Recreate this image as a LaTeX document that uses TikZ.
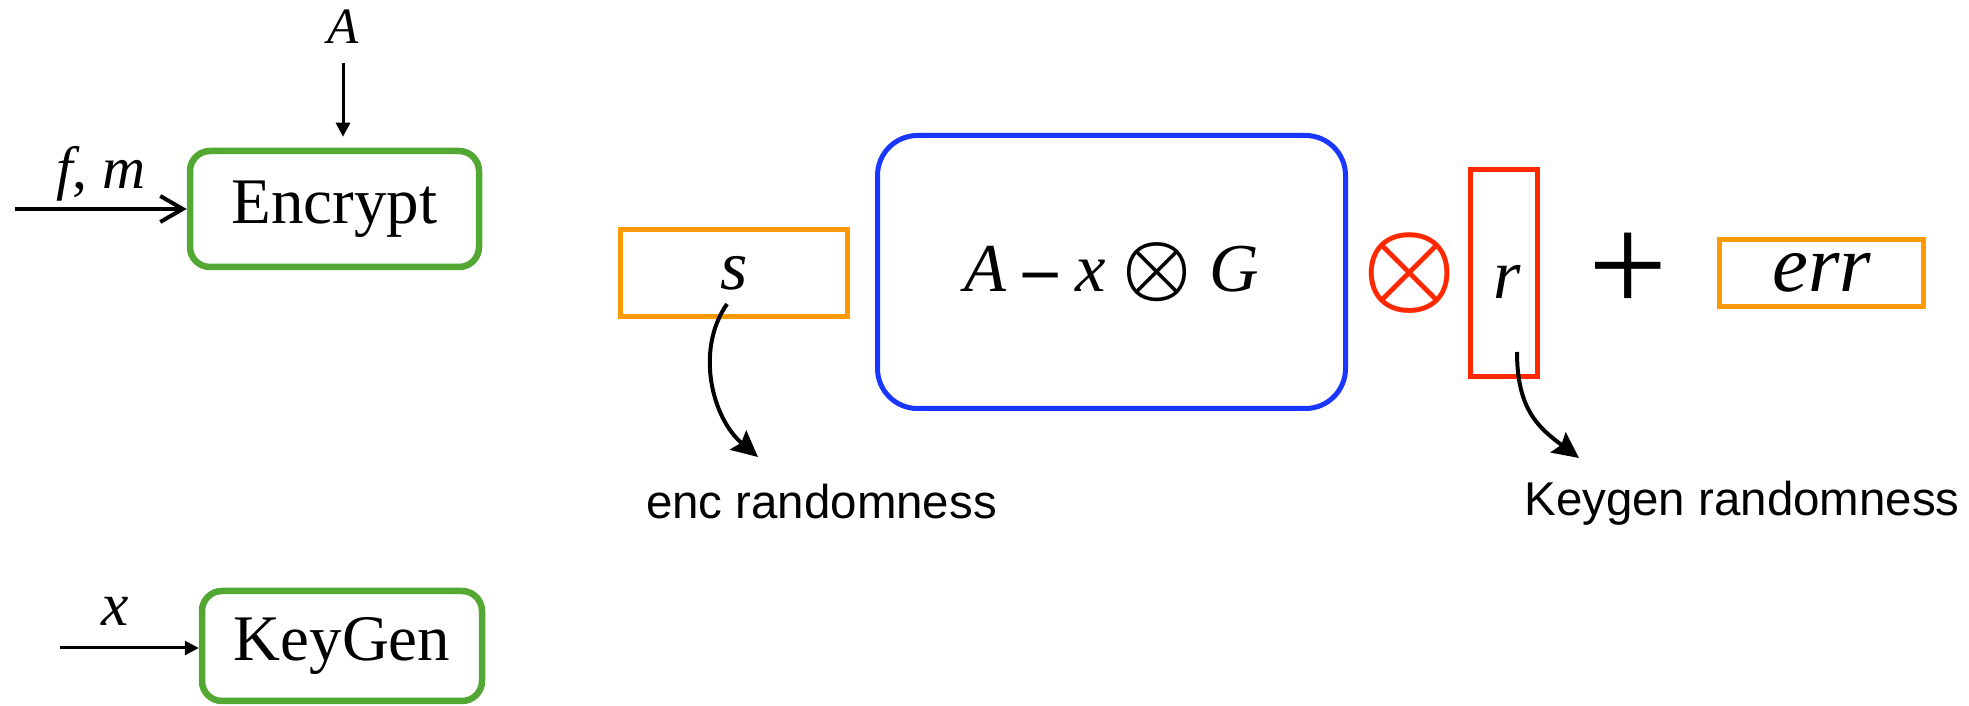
\documentclass[tikz,border=0pt]{standalone}
\usepackage{fix-cm}
\usepackage{fontspec}
\setmainfont{Liberation Serif}
\newfontfamily\labelfont{Liberation Sans}
\usetikzlibrary{arrows.meta}
\definecolor{boxgreen}{RGB}{82,168,50}
\definecolor{boxorange}{RGB}{255,153,0}
\definecolor{boxblue}{RGB}{25,55,255}
\definecolor{boxred}{RGB}{255,40,0}
\newcommand{\fsz}[1]{\fontsize{#1}{#1}\selectfont}

\begin{document}
\begin{tikzpicture}[
 algo/.style={rectangle,draw=boxgreen,line width=0.13cm,rounded corners=0.4cm,
             minimum height=2.32cm,font=\fsz{37}},
 vecbox/.style={rectangle,line width=0.1cm,inner sep=0pt,font=\fsz{40}\itshape},
 inarrow/.style={line width=0.08cm,-{Straight Barb[length=0.45cm,width=0.52cm]}},
 thinarrow/.style={line width=0.06cm,-{Triangle[length=0.28cm,width=0.28cm]}},
 curvearrow/.style={line width=0.08cm,-{Stealth[length=0.52cm,width=0.5cm,inset=0.08cm]}},
 randlabel/.style={font=\labelfont\fsz{27}}]
\useasboundingbox (0,0) rectangle (39.38,14.12);

% Encrypt / KeyGen
\node[algo,minimum width=5.78cm] (enc) at (6.69,9.94) {Encrypt};
\node[algo,minimum width=5.6cm,minimum height=2.2cm] (keygen) at (6.84,1.2) {KeyGen};
\node[inner sep=0pt,font=\fsz{29}\itshape] (Akey) at (6.86,13.58) {A};
\coordinate (fmin) at (0.3,9.94);
\coordinate (xin) at (1.2,1.16);
\draw[thinarrow,shorten <=0.38cm,shorten >=0.22cm] (Akey.south) -- (Akey.south |- enc.north);
\draw[inarrow] (fmin) -- (enc) node[midway,above,font=\fsz{34}] {\textit{f}, \textit{m}};
\draw[thinarrow] (xin) -- (xin -| keygen.west) node[pos=0.4,above=0.3cm,font=\fsz{35}\itshape] {x};

% ciphertext
\node[vecbox,draw=boxorange,minimum width=4.54cm,minimum height=1.74cm] (sbox) at (14.68,8.66) {s};
\node[vecbox,draw=boxblue,rounded corners=0.8cm,minimum width=9.36cm,minimum height=5.46cm,
      font=\fsz{39}] (mat) at (22.23,8.68)
      {\textit{A} \textbf{–} \textit{x} {\fsz{44}\boldmath$\otimes$} \textit{G}};
\node[text=boxred,font=\fsz{60}\boldmath] (otimes) at (28.2,8.66) {$\otimes$};
\node[vecbox,draw=boxred,minimum width=1.34cm,minimum height=4.14cm] (rbox) at (30.08,8.66) {};
\node[font=\fsz{40}\itshape] (rvar) at (30.14,8.48) {r};
\node[font=\fsz{80}] (plus) at (32.56,8.66) {+};
\node[vecbox,draw=boxorange,minimum width=4.08cm,minimum height=1.34cm,font=\fsz{46}\itshape]
      (errbox) at (36.43,8.66) {err};

% randomness
\node[randlabel] (enclab) at (16.43,4.08) {enc randomness};
\node[randlabel] (keylab) at (34.84,4.06) {Keygen randomness};
\coordinate (sfoot) at (14.54,8.04);
\coordinate (rfoot) at (30.34,7.08);
\coordinate (encend) at (15.16,4.98);
\coordinate (keyend) at (31.58,4.96);
\draw[curvearrow] (sfoot) .. controls (13.9,7.12) and (14.24,5.76) .. (encend);
\draw[curvearrow] (rfoot) .. controls (30.34,5.92) and (30.78,5.56) .. (keyend);
\end{tikzpicture}
\end{document}
